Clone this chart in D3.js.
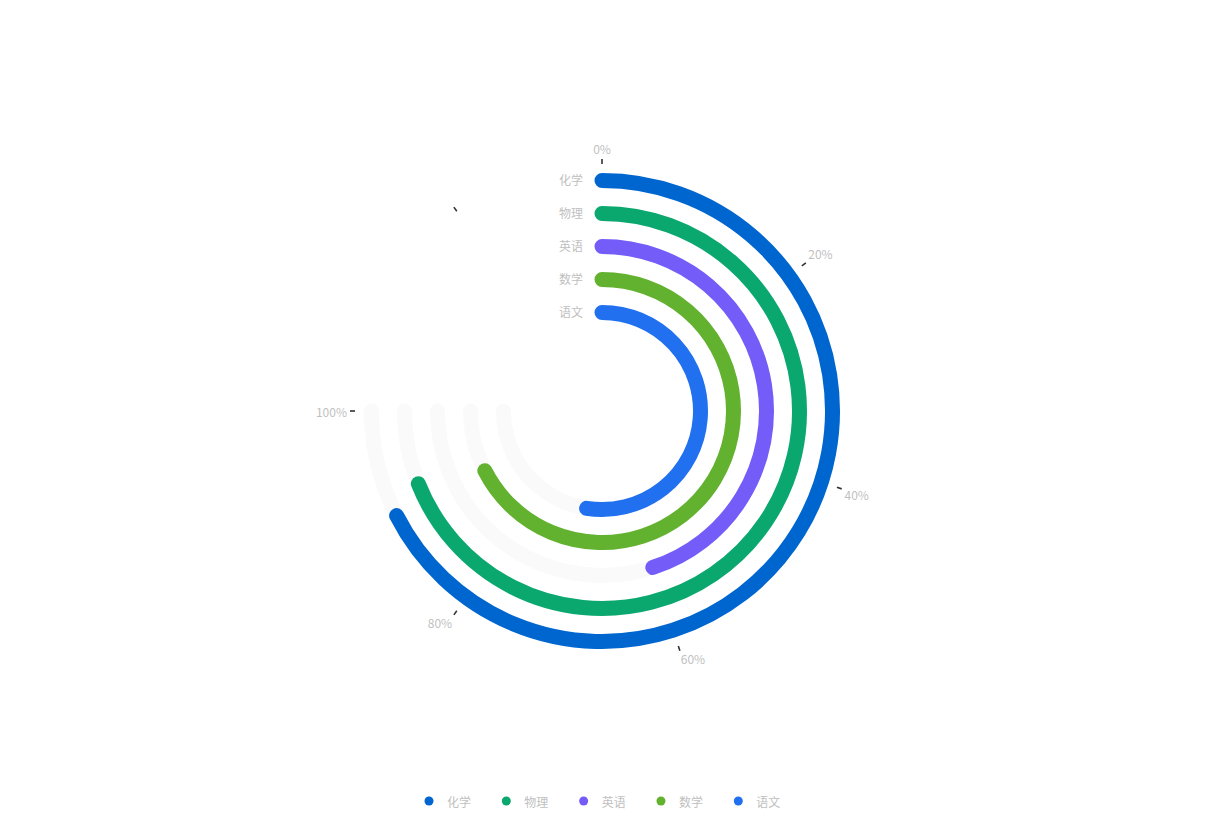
<!DOCTYPE html>
<html>
<head>
<meta charset="utf-8">
<script src="https://cdn.jsdelivr.net/npm/d3@7/dist/d3.min.js"></script>
<style>
  html, body { margin: 0; padding: 0; background: #ffffff; }
  svg { display: block; }
  text { font-family: "Noto Sans CJK SC", "Microsoft YaHei", sans-serif; }
</style>
</head>
<body>
<div id="chart"></div>
<script>
// ---- data ----
const categories = ['语文', '数学', '英语', '物理', '化学'];   // inner -> outer
const values     = [70, 90, 60, 92, 90];                       // percent
const colors     = ['#2170f0', '#63b22f', '#735cf7', '#0aa86f', '#0066cf'];
const legendOrder = ['化学', '物理', '英语', '数学', '语文'];
const tickValues = [0, 20, 40, 60, 80, 100, 120];
const tickLabels = ['0%', '20%', '40%', '60%', '80%', '100%', ''];
const backgroundValue = 100;
const angleMax = 400 / 3;

// ---- layout ----
const W = 1205, H = 823;
const cx = 602, cy = 411;
const innerR = 82, outerR = 247;
const barWidth = 15;

const svg = d3.select('#chart').append('svg').attr('width', W).attr('height', H);
const g = svg.append('g').attr('transform', `translate(${cx},${cy})`);

const angle = d3.scaleLinear().domain([0, angleMax]).range([0, 2 * Math.PI]);
const radius = d3.scaleBand().domain(categories).range([innerR, outerR]);

function arcPath(r, v0, v1) {
  const p = d3.path();
  const a0 = angle(v0) - Math.PI / 2, a1 = angle(v1) - Math.PI / 2;
  p.arc(0, 0, r, a0, a1, false);
  return p.toString();
}
const rc = c => radius(c) + radius.bandwidth() / 2;

// background bars
g.selectAll('path.bg').data(categories).enter().append('path')
  .attr('class', 'bg')
  .attr('d', c => arcPath(rc(c), 0, backgroundValue))
  .attr('fill', 'none')
  .attr('stroke', '#fafafa')
  .attr('stroke-width', barWidth)
  .attr('stroke-linecap', 'round');

// data bars
g.selectAll('path.bar').data(categories).enter().append('path')
  .attr('class', 'bar')
  .attr('d', (c, i) => arcPath(rc(c), 0, values[i]))
  .attr('fill', 'none')
  .attr('stroke', (c, i) => colors[i])
  .attr('stroke-width', barWidth)
  .attr('stroke-linecap', 'round');

// angle axis ticks
const pt = (r, v) => {
  const a = angle(v);
  return [r * Math.sin(a), -r * Math.cos(a)];
};
tickValues.forEach((v, i) => {
  const [x1, y1] = pt(outerR, v);
  const [x2, y2] = pt(outerR + 5, v);
  g.append('line').attr('x1', x1).attr('y1', y1).attr('x2', x2).attr('y2', y2)
    .attr('stroke', '#333').attr('stroke-width', 1.6);
  const lr = outerR + 8;
  const [lx, ly] = pt(lr, v);
  const anchor = Math.abs(lx) / lr < 0.3 ? 'middle' : (lx > 0 ? 'start' : 'end');
  const base = Math.abs(ly) / lr < 0.3 ? 'central' : (ly > 0 ? 'hanging' : 'auto');
  let dy = 0;
  if (base === 'hanging') dy = -1;
  if (base === 'auto') dy = -2;
  g.append('text').attr('x', lx).attr('y', ly + dy)
    .attr('text-anchor', anchor)
    .attr('dominant-baseline', base)
    .attr('font-size', 12)
    .attr('fill', '#bfbfbf')
    .text(tickLabels[i]);
});

// radius axis category labels
g.selectAll('text.cat').data(categories).enter().append('text')
  .attr('class', 'cat')
  .attr('x', -19)
  .attr('y', c => -rc(c) - 1)
  .attr('text-anchor', 'end')
  .attr('dominant-baseline', 'central')
  .attr('font-size', 12)
  .attr('fill', '#bfbfbf')
  .text(c => c);

// legend
const legend = svg.append('g').attr('transform', 'translate(429,801)');
const legendX = d3.scalePoint().domain(legendOrder).range([0, 309.3]);
const item = legend.selectAll('g').data(legendOrder).enter().append('g')
  .attr('transform', d => `translate(${legendX(d)},0)`);
item.append('circle').attr('r', 4.5)
  .attr('fill', d => colors[categories.indexOf(d)]);
item.append('text').attr('x', 18).attr('y', 0)
  .attr('dominant-baseline', 'central')
  .attr('font-size', 12)
  .attr('fill', '#bfbfbf')
  .text(d => d);
</script>
</body>
</html>
